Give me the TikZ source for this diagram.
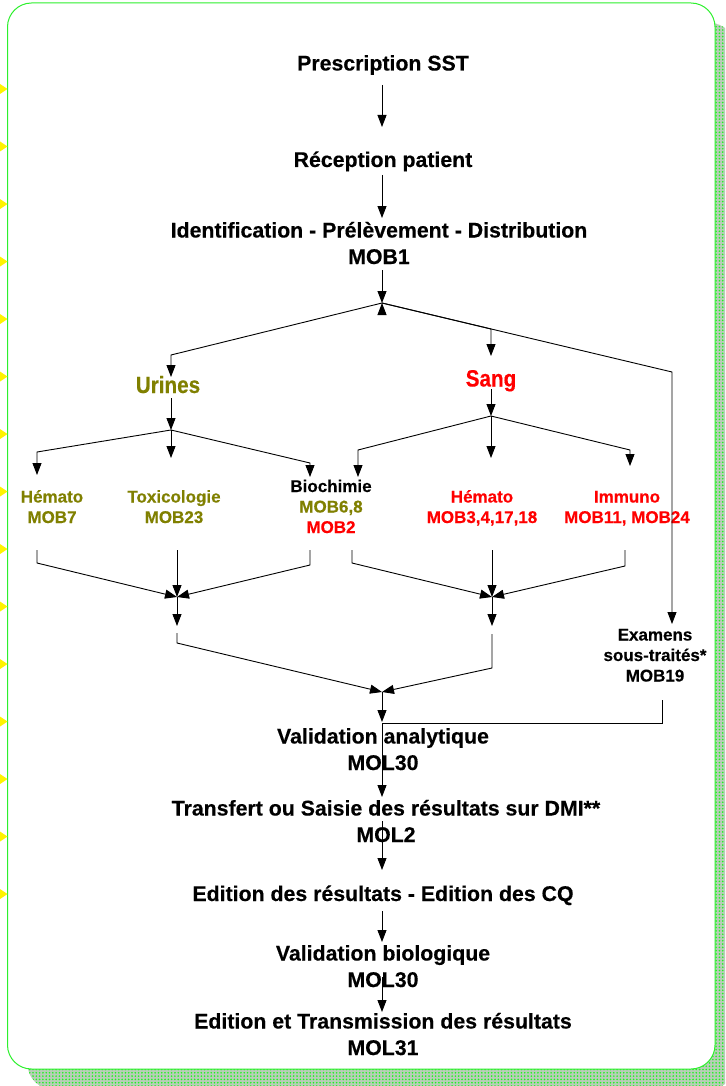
\documentclass[tikz,border=0pt]{standalone}
\usepackage{fontspec}
\setmainfont{Liberation Sans}[BoldFeatures={FakeBold=0.35}]
\newfontfamily\narrowsans{Liberation Sans}[FakeStretch=0.88,BoldFeatures={FakeBold=0.35}]
\usetikzlibrary{arrows.meta,patterns.meta}
\definecolor{olivetxt}{RGB}{128,128,0}
\definecolor{redtxt}{RGB}{255,0,0}
\definecolor{framegreen}{RGB}{45,240,45}
\definecolor{dotgreen}{RGB}{30,245,30}
\definecolor{shadowgray}{RGB}{185,205,185}
\begin{document}
\begin{tikzpicture}[x=1pt,y=-1pt,
  mainlbl/.style={font=\bfseries\fontsize{21.3}{26.5}\selectfont, align=center, inner sep=0pt, anchor=base},
  smalllbl/.style={font=\bfseries\fontsize{17}{20.5}\selectfont, align=center, inner sep=0pt, anchor=base},
  biglbl/.style={font=\narrowsans\bfseries\fontsize{23.5}{26}\selectfont, inner sep=0pt, anchor=base},
  arr/.style={-{Triangle[length=12pt,width=9pt]}, line width=0.9pt},
  ln/.style={line width=0.9pt}]
\path[use as bounding box] (0,0) rectangle (725,1086);
\clip (0,0) rectangle (725,1086);
% shadow
\fill[shadowgray, rounded corners=25pt] (27.5,23) rectangle (735,1089);
\fill[pattern={Dots[distance=3.3pt,radius=0.9pt]}, pattern color=dotgreen, rounded corners=25pt] (27.5,23) rectangle (735,1089);
% frame
\draw[framegreen, line width=1pt, fill=white, rounded corners=24pt] (7.5,3) rectangle (715,1069);
% yellow markers
\foreach \k in {0,...,14}{
  \pgfmathsetmacro\yy{89+57.5*\k}
  \fill[yellow] (0,\yy-5) -- (7.5,\yy) -- (0,\yy+5) -- cycle;
}
% labels (anchor = baseline of last line)
\node[mainlbl] (presc) at (383,70.5) {Prescription SST};
\node[mainlbl] (recep) at (383,167) {Réception patient};
\node[mainlbl] (ident) at (379,264) {Identification - Prélèvement - Distribution\\MOB1};
\node[biglbl, text=olivetxt] (urines) at (168,393) {Urines};
\node[biglbl, text=redtxt] (sang) at (491,386.5) {Sang};
\node[smalllbl, text=olivetxt] (hemU) at (52,523) {Hémato\\MOB7};
\node[smalllbl, text=olivetxt] (toxi) at (174,523) {Toxicologie\\MOB23};
\node[smalllbl] (bioc) at (331,533) {Biochimie\\\textcolor{olivetxt}{MOB6,8}\\\textcolor{redtxt}{MOB2}};
\node[smalllbl, text=redtxt] (hemS) at (482,523) {Hémato\\MOB3,4,17,18};
\node[smalllbl, text=redtxt] (immu) at (627,523) {Immuno\\MOB11, MOB24};
\node[smalllbl] (exam) at (655,681.5) {Examens\\sous-traités*\\MOB19};
\node[mainlbl] (valan) at (383,770) {Validation analytique\\MOL30};
\node[mainlbl] (trans) at (386,842) {Transfert ou Saisie des résultats sur DMI**\\MOL2};
\node[mainlbl] (editr) at (383,901) {Edition des résultats - Edition des CQ};
\node[mainlbl] (valbi) at (383,987) {Validation biologique\\MOL30};
\node[mainlbl] (editt) at (383,1055) {Edition et Transmission des résultats\\MOL31};
% coordinates
\coordinate (presc-out) at (382,85);
\coordinate (recep-in) at (382,127);
\coordinate (recep-out) at (382,175);
\coordinate (ident-in) at (382,218);
\coordinate (ident-out) at (382,270);
\coordinate (b0) at (382,303);
\coordinate (b0low) at (382,310);
\coordinate (cu) at (171,355);
\coordinate (urines-in) at (171,377);
\coordinate (cs) at (491,329);
\coordinate (sang-in) at (491,356);
\coordinate (ce) at (672,372);
\coordinate (exam-in) at (672,624);
\coordinate (urines-out) at (171,398);
\coordinate (bu) at (171,430);
\coordinate (cu1) at (37,452);
\coordinate (hemU-in) at (37,475);
\coordinate (toxi-in) at (171,458);
\coordinate (cu3) at (310,463);
\coordinate (bioc-in1) at (310,477);
\coordinate (sang-out) at (491,389);
\coordinate (bs) at (491,416);
\coordinate (cs1) at (358,450);
\coordinate (bioc-in2) at (358,477);
\coordinate (hemS-in) at (491,458);
\coordinate (cs3) at (630,450);
\coordinate (immu-in) at (630,466);
% lower urines
\coordinate (hemU-out) at (37,550);
\coordinate (hemU-c) at (37,563);
\coordinate (toxi-out) at (177,550);
\coordinate (bioc-out1) at (310,550);
\coordinate (bioc-c1) at (310,565);
\coordinate (j1) at (177,597);
\coordinate (j1b) at (177,626);
\coordinate (j1c) at (177,633);
\coordinate (j1d) at (177,643);
% lower sang
\coordinate (bioc-out2) at (352,550);
\coordinate (bioc-c2) at (352,563);
\coordinate (hemS-out) at (492,550);
\coordinate (immu-out) at (625,550);
\coordinate (immu-c) at (625,566);
\coordinate (j2) at (492,597);
\coordinate (j2b) at (492,626);
\coordinate (j2c) at (492,634);
\coordinate (j2d) at (492,668);
\coordinate (j3) at (382,692);
\coordinate (valan-in) at (382,722);
\coordinate (exam-out) at (662,700);
\coordinate (exam-c) at (662,723);
\coordinate (va) at (382,723);
\coordinate (trans-in) at (382,797);
\coordinate (trans-out) at (382,821);
\coordinate (editr-in) at (382,870);
\coordinate (editr-out) at (382,911);
\coordinate (valbi-in) at (382,942);
\coordinate (valbi-out) at (382,977);
\coordinate (editt-in) at (382,1012);
% connectors
\draw[arr] (presc-out) -- (recep-in);
\draw[arr] (recep-out) -- (ident-in);
\draw[arr] (ident-out) -- (b0);
\draw[arr] (b0low) -- (b0);
\draw[arr] (b0) -- (cu) -- (urines-in);
\draw[arr] (b0) -- (cs) -- (sang-in);
\draw[arr] (b0) -- (ce) -- (exam-in);
\draw[arr] (urines-out) -- (bu);
\draw[arr] (bu) -- (cu1) -- (hemU-in);
\draw[arr] (bu) -- (toxi-in);
\draw[arr] (bu) -- (cu3) -- (bioc-in1);
\draw[arr] (sang-out) -- (bs);
\draw[arr] (bs) -- (cs1) -- (bioc-in2);
\draw[arr] (bs) -- (hemS-in);
\draw[arr] (bs) -- (cs3) -- (immu-in);
\draw[arr] (hemU-out) -- (hemU-c) -- (j1);
\draw[arr] (toxi-out) -- (j1);
\draw[arr] (bioc-out1) -- (bioc-c1) -- (j1);
\draw[arr] (j1) -- (j1b);
\draw[arr] (j1c) -- (j1d) -- (j3);
\draw[arr] (bioc-out2) -- (bioc-c2) -- (j2);
\draw[arr] (hemS-out) -- (j2);
\draw[arr] (immu-out) -- (immu-c) -- (j2);
\draw[arr] (j2) -- (j2b);
\draw[arr] (j2c) -- (j2d) -- (j3);
\draw[arr] (j3) -- (valan-in);
\draw[ln] (exam-out) -- (exam-c) -- (va);
\draw[arr] (va) -- (trans-in);
\draw[arr] (trans-out) -- (editr-in);
\draw[arr] (editr-out) -- (valbi-in);
\draw[arr] (valbi-out) -- (editt-in);
\end{tikzpicture}
\end{document}
